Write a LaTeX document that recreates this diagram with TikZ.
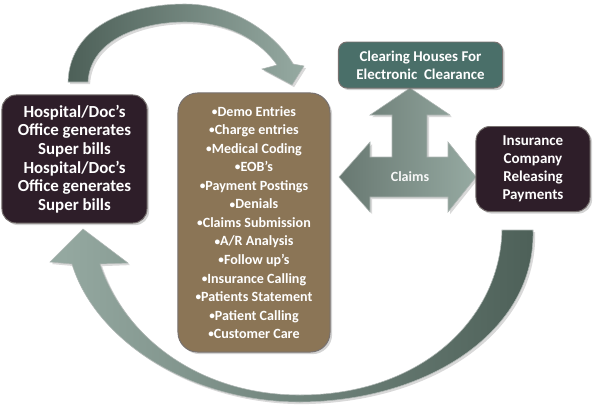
\documentclass[tikz,border=0pt]{standalone}
\usepackage{fontspec}
\setmainfont{Carlito}
\usepackage{xcolor}
\usetikzlibrary{shadows, positioning, calc}

\definecolor{plumbox}{HTML}{2E1E29}
\definecolor{brownbox}{HTML}{8B7556}
\definecolor{tealbox}{HTML}{4A6F69}
\definecolor{arrowdark}{HTML}{4D6058}
\definecolor{arrowlight}{HTML}{96AAA2}
\definecolor{boxedge}{HTML}{77716F}

\newcommand{\taskdot}{\raisebox{0.12ex}{\scalebox{0.8}{•}}}

\tikzset{
  cyclebox/.style={draw=boxedge, line width=0.7pt, text=white, align=center, inner sep=2pt,
    font=\bfseries\fontsize{10}{13.2}\selectfont,
    drop shadow={opacity=0.35, shadow xshift=1.5pt, shadow yshift=-1.5pt}},
  bigarrow/.style={draw=white!55!arrowdark, line width=0.4pt,
    drop shadow={opacity=0.3, shadow xshift=1.5pt, shadow yshift=-1.5pt}},
}

\begin{document}
\begin{tikzpicture}[x=0.025cm, y=-0.025cm]
    \useasboundingbox (0,0) rectangle (594,404);
    % curved arrows round the cycle
    \path[bigarrow, left color=arrowdark, right color=arrowlight]
      (68,82) .. controls (70,22) and (135,4) .. (185,4)
      .. controls (235,4) and (276,35) .. (293,64)
      -- (304,66) -- (292,85) -- (262,69) -- (277,65)
      .. controls (258,38) and (225,22) .. (185,22)
      .. controls (140,22) and (90,40) .. (88,82) -- cycle;
    \path[bigarrow, left color=arrowlight, right color=arrowdark]
      (533,230) .. controls (536,330) and (430,401) .. (300,402)
      .. controls (190,402) and (95,340) .. (72,264)
      -- (50,262) -- (83,229) -- (128,263) -- (100,264)
      .. controls (125,338) and (200,395) .. (300,395)
      .. controls (420,395) and (500,320) .. (502,230) -- cycle;
    % claims arrow
    \path[bigarrow, left color=arrowdark!85!white, right color=arrowlight]
      (339,177) -- (370,142) -- (370,157) -- (392,157) -- (392,115) -- (370,115)
      -- (410,88) -- (450,115) -- (427,115) -- (427,157) -- (448,157) -- (448,142)
      -- (476,177) -- (448,212) -- (448,197) -- (370,197) -- (370,212) -- cycle;
    \node[text=white!92!arrowlight, font=\bfseries\fontsize{10}{12}\selectfont] (claims) at (410,177) {Claims};
    % boxes
    \node[cyclebox, fill=plumbox, rounded corners=10pt, minimum width=3.625cm, minimum height=3.2cm,
      font=\bfseries\fontsize{12}{13.2}\selectfont]
      (hospital) at (74.5,159) {Hospital/Doc’s\\Office generates\\Super bills\\Hospital/Doc’s\\Office generates\\Super bills};
    \node[cyclebox, fill=brownbox, rounded corners=14pt, minimum width=3.8cm, minimum height=6.475cm]
      (tasks) at (254,222.5) {\taskdot Demo Entries\\\taskdot Charge entries\\\taskdot Medical Coding\\\taskdot EOB’s\\\taskdot Payment Postings\\\taskdot Denials\\\taskdot Claims Submission\\\taskdot A/R Analysis\\\taskdot Follow up’s\\\taskdot Insurance Calling\\\taskdot Patients Statement\\\taskdot Patient Calling\\\taskdot Customer Care};
    \node[cyclebox, fill=tealbox, rounded corners=6pt, minimum width=4.1cm, minimum height=1.15cm,
      font=\bfseries\fontsize{10.6}{12.6}\selectfont]
      (clearing) at (420.5,65) {Clearing Houses For\\Electronic\ \ Clearance};
    \node[cyclebox, fill=plumbox, rounded corners=10pt, minimum width=2.85cm, minimum height=2.125cm,
      font=\bfseries\fontsize{10.7}{12.7}\selectfont]
      (insurer) at (533,169) {Insurance\\Company\\Releasing\\Payments};
\end{tikzpicture}
\end{document}
